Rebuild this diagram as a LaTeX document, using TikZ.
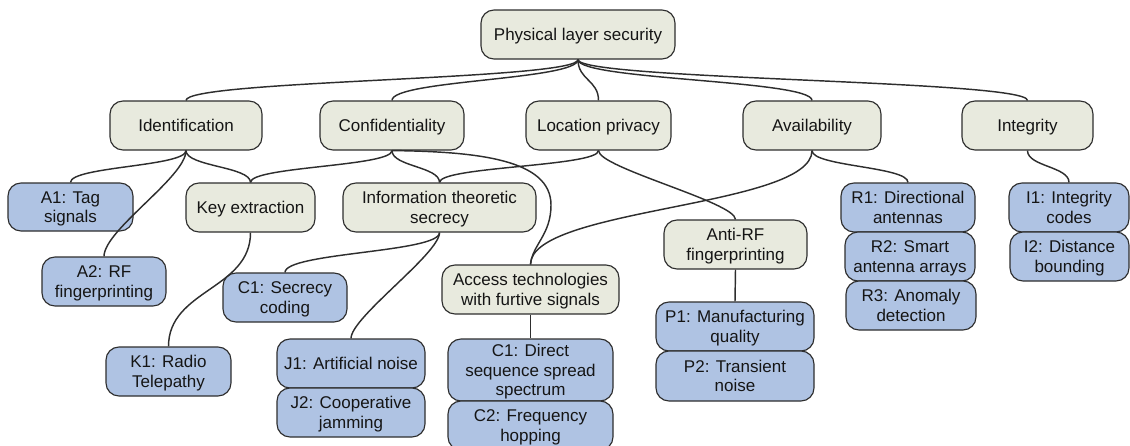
\documentclass[tikz,border=0pt]{standalone}
\usepackage{fontspec}
\setmainfont{Liberation Sans}
\usetikzlibrary{calc}
\definecolor{boxgreen}{HTML}{E8EADE}
\definecolor{boxblue}{HTML}{AFC3E3}
\definecolor{edgecol}{HTML}{2E2E2E}
\definecolor{inkcol}{HTML}{151515}
\newcommand\ls{\rule[-3.8pt]{0pt}{19.6pt}}
% connector with vertical end tangents; #1 = control factor
\newcommand\tie[3][0.5]{%
  \draw[link] (#2.south) .. controls ($(#2.south)!#1!(#2.south |- #3.north)$)
     and ($(#3.north)!#1!(#3.north |- #2.south)$) .. (#3.north);}
\begin{document}
\begin{tikzpicture}[x=1pt,y=-1pt,
  base/.style={draw=edgecol, line width=1.15pt, rounded corners=13pt, align=center,
    inner sep=0pt, text=inkcol, font=\fontsize{17}{19.6}\selectfont},
  catbox/.style={base, fill=boxgreen},
  leafbox/.style={base, fill=boxblue},
  link/.style={draw=edgecol, line width=1.45pt}]
\useasboundingbox (0,0) rectangle (1130,445);
\clip (0,0) rectangle (1130,445);

% root and categories
\node[catbox, minimum width=194pt, minimum height=49pt] (root) at (578,34.5) {\ls Physical layer security};
\node[catbox, minimum width=152pt, minimum height=49pt] (ident) at (186,125.5) {\ls Identification};
\node[catbox, minimum width=144pt, minimum height=49pt] (conf) at (392,125.5) {\ls Confidentiality};
\node[catbox, minimum width=145pt, minimum height=49pt] (loc) at (598.5,125.5) {\ls Location privacy};
\node[catbox, minimum width=138pt, minimum height=49pt] (avail) at (812,125.5) {\ls Availability};
\node[catbox, minimum width=131pt, minimum height=49pt] (integ) at (1027.5,125.5) {\ls Integrity};

% second level
\node[leafbox, minimum width=125pt, minimum height=48pt] (a1) at (70.5,207) {\ls A1: Tag\\\ls signals};
\node[catbox, minimum width=129pt, minimum height=49pt] (keyex) at (250.5,207.5) {\ls Key extraction};
\node[catbox, minimum width=193pt, minimum height=49pt] (infot) at (439.5,207.5) {\ls Information theoretic\\\ls secrecy};
\node[leafbox, minimum width=134pt, minimum height=49pt] (r1) at (908,207.5) {\ls R1: Directional\\\ls antennas};
\node[leafbox, minimum width=130pt, minimum height=49pt] (r2) at (910,256.5) {\ls R2: Smart\\\ls antenna arrays};
\node[leafbox, minimum width=130pt, minimum height=49pt] (r3) at (911,305.5) {\ls R3: Anomaly\\\ls detection};
\node[leafbox, minimum width=120pt, minimum height=49pt] (i1) at (1069,207.5) {\ls I1: Integrity\\\ls codes};
\node[leafbox, minimum width=119pt, minimum height=49pt] (i2) at (1069.5,256.5) {\ls I2: Distance\\\ls bounding};

\node[leafbox, minimum width=124pt, minimum height=49pt] (a2) at (104,281.5) {\ls A2: RF\\\ls fingerprinting};
\node[leafbox, minimum width=124pt, minimum height=49pt] (c1s) at (285,297.5) {\ls C1: Secrecy\\\ls coding};
\node[catbox, minimum width=177pt, minimum height=49pt] (access) at (530.5,289.5) {\ls Access technologies\\\ls with furtive signals};
\node[catbox, minimum width=143pt, minimum height=49pt] (antirf) at (735.5,244.5) {\ls Anti-RF\\\ls fingerprinting};

\node[leafbox, minimum width=125pt, minimum height=49pt] (k1) at (168.5,371.5) {\ls K1: Radio\\\ls Telepathy};
\node[leafbox, minimum width=148pt, minimum height=49pt] (j1) at (351,363.5) {\ls J1: Artificial noise};
\node[leafbox, minimum width=148pt, minimum height=49pt] (j2) at (351,412.5) {\ls J2: Cooperative\\\ls jamming};
\node[leafbox, minimum width=165pt, minimum height=62pt] (c1d) at (530.5,370) {\ls C1: Direct\\\ls sequence spread\\\ls spectrum};
\node[leafbox, minimum width=165pt, minimum height=49pt] (c2d) at (530.5,425.5) {\ls C2: Frequency\\\ls hopping};
\node[leafbox, minimum width=158pt, minimum height=49pt] (p1) at (735,326.5) {\ls P1: Manufacturing\\\ls quality};
\node[leafbox, minimum width=158pt, minimum height=50pt] (p2) at (735,376) {\ls P2: Transient\\\ls noise};

% connectors from the root
\tie{root}{ident}
\tie{root}{conf}
\tie{root}{loc}
\tie{root}{avail}
\tie{root}{integ}

% Identification
\tie{ident}{a1}
\tie{ident}{keyex}
\tie[0.25]{ident}{a2}
% Confidentiality
\tie{conf}{keyex}
\tie{conf}{infot}
\coordinate (cbend) at (551,205);
\draw[link] (conf.south) .. controls +(88,1) and +(0,-45) .. (cbend)
  .. controls +(0,30) and +(2,-20) .. (access.north);
% Location privacy
\tie{loc}{infot}
\tie[0.25]{loc}{antirf}
% Availability
\tie{avail}{access}
\tie{avail}{r1}
% Integrity
\tie{integ}{i1}
% lower levels
\tie{infot}{c1s}
\tie[0.2]{infot}{j1}
\tie{keyex}{k1}
\draw[link] (access.south) -- (c1d.north);
\draw[link] (antirf.south) -- (p1.north);
\end{tikzpicture}
\end{document}
